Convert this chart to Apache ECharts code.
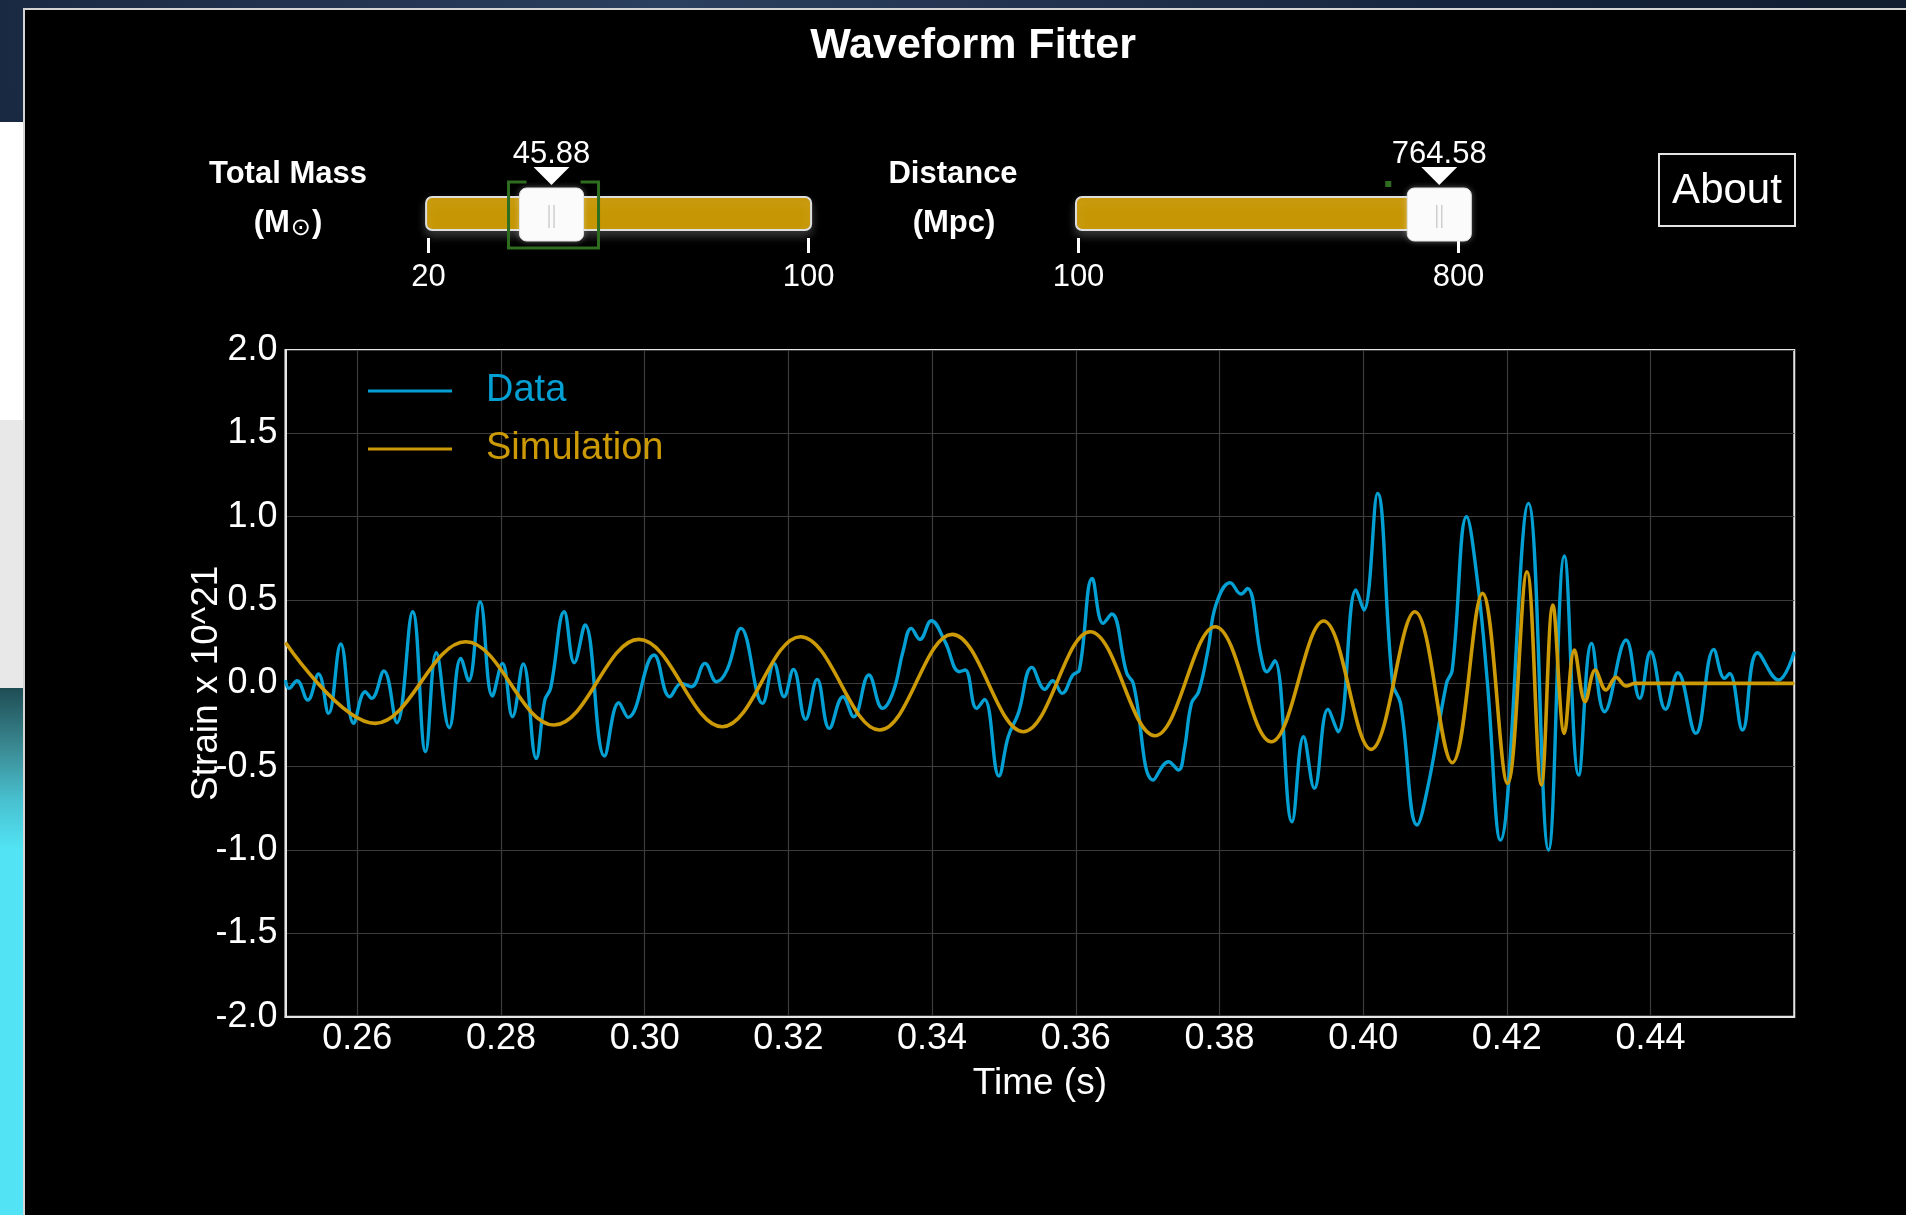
<!DOCTYPE html>
<html>
<head>
<meta charset="utf-8">
<title>Waveform Fitter</title>
<script src="https://cdn.jsdelivr.net/npm/echarts@6/dist/echarts.min.js"></script>
<style>
  html, body { margin: 0; padding: 0; width: 1906px; height: 1215px; overflow: hidden; }
  body { position: relative; background: radial-gradient(ellipse at 35% 0%, #2b3f5e 0%, #16253d 45%, #0a1220 100%); }
  .strip { position: absolute; left: 0; width: 23px; }
  #s1 { top: 122px; height: 298px; background: #ffffff; }
  #s2 { top: 420px; height: 268px; background: #e8e8e8; }
  #s3 { top: 688px; height: 527px; background: linear-gradient(to bottom, #1f4d54 0px, #3b8c96 62px, #48c0cf 112px, #52e4f4 162px, #52e4f4 100%); }
  #frame { position: absolute; left: 23px; top: 8px; width: 1883px; height: 1207px; box-sizing: border-box;
           background: #000; border-top: 2px solid #d4d4d4; border-left: 2px solid #d4d4d4; }
  #chart { position: absolute; left: 25px; top: 10px; width: 1881px; height: 1205px; }
</style>
</head>
<body>
<div class="strip" id="s1"></div>
<div class="strip" id="s2"></div>
<div class="strip" id="s3"></div>
<div id="frame"></div>
<div id="chart"></div>
<script>
// Measured detector strain (x 10^21) against time in seconds
const dataTime = [0.2500, 0.2505, 0.2516, 0.2531, 0.2546, 0.2560, 0.2577, 0.2595, 0.2611, 0.2620,
  0.2637, 0.2655, 0.2677, 0.2695, 0.2710, 0.2728, 0.2744, 0.2755, 0.2771, 0.2788,
  0.2802, 0.2816, 0.2831, 0.2849, 0.2861, 0.2869, 0.2888, 0.2902, 0.2917, 0.2944,
  0.2964, 0.2977, 0.3013, 0.3035, 0.3051, 0.3065, 0.3084, 0.3100, 0.3115, 0.3134,
  0.3164, 0.3180, 0.3194, 0.3207, 0.3224, 0.3240, 0.3257, 0.3276, 0.3291, 0.3312,
  0.3331, 0.3346, 0.3360, 0.3371, 0.3383, 0.3399, 0.3418, 0.3438, 0.3446, 0.3462,
  0.3473, 0.3493, 0.3506, 0.3520, 0.3539, 0.3557, 0.3568, 0.3581, 0.3596, 0.3605,
  0.3623, 0.3638, 0.3650, 0.3671, 0.3680, 0.3708, 0.3729, 0.3743, 0.3751, 0.3761,
  0.3771, 0.3784, 0.3795, 0.3815, 0.3830, 0.3839, 0.3858, 0.3866, 0.3877, 0.3901,
  0.3917, 0.3932, 0.3951, 0.3965, 0.3990, 0.4001, 0.4020, 0.4041, 0.4052, 0.4075,
  0.4092, 0.4116, 0.4124, 0.4144, 0.4160, 0.4173, 0.4191, 0.4230, 0.4258, 0.4280,
  0.4300, 0.4318, 0.4336, 0.4366, 0.4385, 0.4400, 0.4421, 0.4438, 0.4463, 0.4488,
  0.4503, 0.4510, 0.4528, 0.4549, 0.4578, 0.4600];
const dataStrain = [0.02, -0.03, 0.016, -0.10, 0.056, -0.18, 0.236, -0.24, -0.05, -0.09,
  0.074, -0.236, 0.43, -0.41, 0.184, -0.266, 0.15, 0.016, 0.49, -0.076,
  0.12, -0.20, 0.116, -0.45, -0.10, -0.03, 0.43, 0.124, 0.35, -0.436,
  -0.116, -0.204, 0.17, -0.08, 0.0, -0.02, 0.12, 0.01, 0.084, 0.33,
  -0.12, 0.12, -0.08, 0.084, -0.216, 0.024, -0.27, -0.08, -0.20, 0.05,
  -0.15, -0.05, 0.20, 0.33, 0.264, 0.376, 0.25, 0.07, 0.08, -0.15,
  -0.096, -0.556, -0.32, -0.18, 0.096, -0.036, 0.016, -0.06, 0.05, 0.08,
  0.63, 0.36, 0.416, 0.06, 0.0, -0.58, -0.47, -0.52, -0.40, -0.12,
  -0.05, 0.20, 0.47, 0.604, 0.536, 0.57, 0.16, 0.07, 0.136, -0.83,
  -0.32, -0.63, -0.156, -0.29, 0.56, 0.44, 1.14, 0.0, -0.12, -0.85,
  -0.58, 0.0, 0.08, 1.0, 0.58, 0.0, -0.94, 1.08, -1.0, 0.764,
  -0.55, 0.24, -0.17, 0.26, -0.09, 0.19, -0.156, 0.064, -0.30, 0.204,
  0.03, 0.06, -0.28, 0.184, 0.02, 0.19];

// Simulated template strain: turning points of the chirp, then the flat tail
const simTime = [0.2500, 0.2625, 0.2751, 0.2874, 0.2992, 0.3108, 0.3217, 0.3327, 0.3428, 0.3527,
  0.3620, 0.3710, 0.3794, 0.3872, 0.3945, 0.4011, 0.4072, 0.4124, 0.4166, 0.4201,
  0.4228, 0.4248, 0.4264, 0.4280, 0.4294, 0.4309, 0.4323, 0.4338, 0.4352, 0.4366,
  0.4378, 0.4600];
const simStrain = [0.245, -0.24, 0.25, -0.25, 0.264, -0.26, 0.28, -0.28, 0.294, -0.29,
  0.31, -0.314, 0.34, -0.35, 0.374, -0.396, 0.43, -0.476, 0.54, -0.60,
  0.67, -0.61, 0.47, -0.30, 0.20, -0.11, 0.08, -0.04, 0.036, -0.016,
  0.0, 0.0];

const timeTicks = [0.26, 0.28, 0.30, 0.32, 0.34, 0.36, 0.38, 0.40, 0.42, 0.44];
const strainRange = [-2, 2];
const strainStep = 0.5;

// Slider settings
const massRange = [20, 100];
const massValue = 45.88;
const distRange = [100, 800];
const distValue = 764.58;

const FONT = "'Liberation Sans', Arial, Helvetica, sans-serif";
const BLUE = '#04a0d3';
const GOLD = '#cc9a06';
const TRACK = '#c69604';

function zip(a, b) { return a.map((v, i) => [v, b[i]]); }

// Draws one slider: track, focus ring, handle, pointer and value readout
function sliderItem(params, api) {
  const v = api.value(0);
  const lo = api.value(2), hi = api.value(3), ring = api.value(4);
  const xv = api.coord([v, 0])[0];
  const a = api.coord([lo, 0])[0];
  const b = api.coord([hi, 0])[0];
  const top = api.coord([lo, 1])[1];
  const kids = [];
  kids.push({
    type: 'rect',
    shape: { x: a - 2.5, y: top + 9, width: b - a + 5, height: 33, r: 6 },
    style: { fill: TRACK, stroke: '#dedede', lineWidth: 2,
             shadowBlur: 10, shadowOffsetY: 5, shadowColor: 'rgba(255,255,255,0.22)' }
  });
  if (ring === 1) {
    kids.push({
      type: 'polyline',
      shape: { points: [[xv - 25, top - 6], [xv - 43, top - 6], [xv - 43, top + 60],
                        [xv + 47, top + 60], [xv + 47, top - 6], [xv + 29, top - 6]] },
      style: { stroke: '#2f6d21', lineWidth: 3, fill: null }
    });
  } else {
    kids.push({
      type: 'rect',
      shape: { x: xv - 54, y: top - 7, width: 6, height: 6 },
      style: { fill: '#2f6d21' }
    });
  }
  kids.push({
    type: 'rect',
    shape: { x: xv - 32, y: top, width: 64, height: 53, r: 7 },
    style: { fill: '#fbfbfb', stroke: '#e2e2e2', lineWidth: 1,
             shadowBlur: 6, shadowColor: 'rgba(255,255,255,0.3)' }
  });
  kids.push({
    type: 'line',
    shape: { x1: xv - 2.5, y1: top + 17, x2: xv - 2.5, y2: top + 40 },
    style: { stroke: '#cfcfcf', lineWidth: 1.5 }
  });
  kids.push({
    type: 'line',
    shape: { x1: xv + 2.5, y1: top + 17, x2: xv + 2.5, y2: top + 40 },
    style: { stroke: '#cfcfcf', lineWidth: 1.5 }
  });
  kids.push({
    type: 'polygon',
    shape: { points: [[xv - 18, top - 21], [xv + 18, top - 21], [xv, top - 3]] },
    style: { fill: '#ffffff' }
  });
  kids.push({
    type: 'text',
    style: { x: xv, y: top - 34, text: v.toFixed(2), fill: '#ffffff',
             font: '31px ' + FONT, textAlign: 'center', textVerticalAlign: 'middle' }
  });
  return { type: 'group', children: kids };
}

function sliderAxis(gridIndex, range) {
  return {
    gridIndex: gridIndex, type: 'value', min: range[0], max: range[1],
    axisLine: { show: false, onZero: false },
    axisTick: { show: true, length: 15, customValues: range, lineStyle: { color: '#ffffff', width: 3 } },
    axisLabel: { show: true, customValues: range, color: '#ffffff', fontSize: 31, fontFamily: FONT, margin: 24 },
    splitLine: { show: false }
  };
}

const chart = echarts.init(document.getElementById('chart'), null, { renderer: 'canvas' });

chart.setOption({
  backgroundColor: '#000000',
  animation: false,
  textStyle: { fontFamily: FONT },
  grid: [
    { left: 260.45, top: 340, width: 1508.8, height: 666.7, show: true,
      borderColor: '#e6e6e6', borderWidth: 2, backgroundColor: 'transparent' },
    { left: 403.6, top: 178, width: 380, height: 50 },
    { left: 1053.5, top: 178, width: 380, height: 50 }
  ],
  xAxis: [
    {
      gridIndex: 0, type: 'value', min: 0.25, max: 0.46,
      name: 'Time (s)', nameLocation: 'middle', nameGap: 49, nameMoveOverlap: false,
      nameTextStyle: { color: '#ffffff', fontSize: 37, fontFamily: FONT },
      axisLine: { show: true, onZero: false, lineStyle: { color: '#e6e6e6', width: 2 } },
      axisTick: { show: false, customValues: timeTicks },
      axisLabel: { customValues: timeTicks, color: '#ffffff', fontSize: 36, fontFamily: FONT, margin: 4,
                   formatter: v => v.toFixed(2) },
      splitLine: { show: true, lineStyle: { color: '#3c3c3c', width: 1.2 } }
    },
    sliderAxis(1, massRange),
    sliderAxis(2, distRange)
  ],
  yAxis: [
    {
      gridIndex: 0, type: 'value', min: strainRange[0], max: strainRange[1], interval: strainStep,
      name: 'Strain x 10^21', nameLocation: 'middle', nameGap: 60, nameMoveOverlap: false,
      nameTextStyle: { color: '#ffffff', fontSize: 37, fontFamily: FONT },
      axisLine: { show: true, onZero: false, lineStyle: { color: '#e6e6e6', width: 2 } },
      axisTick: { show: false },
      axisLabel: { color: '#ffffff', fontSize: 36, fontFamily: FONT, margin: 8,
                   formatter: v => v.toFixed(1) },
      splitLine: { show: true, lineStyle: { color: '#3c3c3c', width: 1.2 } }
    },
    { gridIndex: 1, type: 'value', min: 0, max: 1, show: false },
    { gridIndex: 2, type: 'value', min: 0, max: 1, show: false }
  ],
  legend: {
    left: 343, top: 359, padding: 0, orient: 'vertical', itemGap: 14,
    itemWidth: 84, itemHeight: 3, icon: 'rect', selectedMode: false,
    textStyle: { fontSize: 38, lineHeight: 44, fontFamily: FONT, padding: [0, 0, 0, 29] },
    data: [
      { name: 'Data', textStyle: { color: BLUE } },
      { name: 'Simulation', textStyle: { color: GOLD } }
    ]
  },
  graphic: [
    { type: 'text', style: { x: 948, y: 36, text: 'Waveform Fitter', fill: '#ffffff', font: 'bold 43px ' + FONT,
               textAlign: 'center', textVerticalAlign: 'middle' } },
    { type: 'text', style: { x: 263, y: 164, text: 'Total Mass', fill: '#ffffff', font: 'bold 31px ' + FONT,
               textAlign: 'center', textVerticalAlign: 'middle' } },
    { type: 'text', style: { x: 263, y: 213, text: '{a|(M}{b|⊙}{a|)}', fill: '#ffffff',
               textAlign: 'center', textVerticalAlign: 'middle',
               rich: { a: { font: 'bold 31px ' + FONT, fill: '#ffffff', lineHeight: 36 },
                       b: { font: '24px DejaVu Sans', fill: '#ffffff', lineHeight: 36, verticalAlign: 'bottom', padding: [16, 1, 0, 1] } } } },
    { type: 'text', style: { x: 928, y: 164, text: 'Distance', fill: '#ffffff', font: 'bold 31px ' + FONT,
               textAlign: 'center', textVerticalAlign: 'middle' } },
    { type: 'text', style: { x: 929, y: 213, text: '(Mpc)', fill: '#ffffff', font: 'bold 31px ' + FONT,
               textAlign: 'center', textVerticalAlign: 'middle' } },
    { type: 'rect', shape: { x: 1634, y: 144, width: 136, height: 72 },
      style: { fill: 'transparent', stroke: '#e4e4e4', lineWidth: 2 } },
    { type: 'text', style: { x: 1702, y: 181, text: 'About', fill: '#ffffff', font: '42px ' + FONT,
               textAlign: 'center', textVerticalAlign: 'middle' } }
  ],
  series: [
    {
      name: 'Data', type: 'line', xAxisIndex: 0, yAxisIndex: 0,
      data: zip(dataTime, dataStrain), showSymbol: false, symbol: 'none',
      smooth: 0.42,
      lineStyle: { color: BLUE, width: 3.4 }, itemStyle: { color: BLUE }
    },
    {
      name: 'Simulation', type: 'line', xAxisIndex: 0, yAxisIndex: 0,
      data: zip(simTime, simStrain), showSymbol: false, symbol: 'none',
      smooth: 0.38,
      lineStyle: { color: GOLD, width: 3.6 }, itemStyle: { color: GOLD }
    },
    {
      type: 'custom', xAxisIndex: 1, yAxisIndex: 1, silent: true,
      encode: { x: 0, y: 1 },
      data: [[massValue, 0, massRange[0], massRange[1], 1]],
      renderItem: sliderItem
    },
    {
      type: 'custom', xAxisIndex: 2, yAxisIndex: 2, silent: true,
      encode: { x: 0, y: 1 },
      data: [[distValue, 0, distRange[0], distRange[1], 0]],
      renderItem: sliderItem
    }
  ]
});
</script>
</body>
</html>
